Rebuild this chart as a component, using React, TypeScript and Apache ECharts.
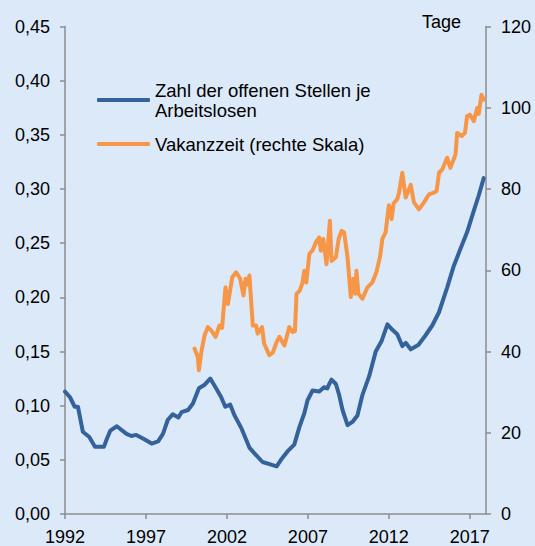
import React, { useEffect, useRef } from "react";
import * as echarts from "echarts";

const xTickLabelsStart = 1992;
const blueName = "Zahl der offenen Stellen je\nArbeitslosen";
const orangeName = "Vakanzzeit (rechte Skala)";

const blueYears = [
  1992.0, 1992.3, 1992.6, 1992.8, 1993.1, 1993.5, 1993.85, 1994.4, 1994.55, 1994.8,
  1995.2, 1995.8, 1996.1, 1996.4, 1996.9, 1997.35, 1997.75, 1998.05, 1998.35, 1998.65,
  1999.0, 1999.2, 1999.6, 1999.9, 2000.27, 2000.6, 2000.97, 2001.33, 2001.64, 2001.9,
  2002.2, 2002.47, 2002.9, 2003.4, 2003.7, 2004.2, 2004.63, 2005.07, 2005.34, 2005.75,
  2006.16, 2006.47, 2006.78, 2006.98, 2007.29, 2007.7, 2008.0, 2008.2, 2008.32, 2008.46,
  2008.73, 2008.93, 2009.14, 2009.45, 2009.75, 2010.06, 2010.37, 2010.78, 2011.19, 2011.56,
  2011.91, 2012.22, 2012.52, 2012.83, 2013.04, 2013.35, 2013.82, 2014.27, 2014.68, 2015.09,
  2015.6, 2016.01, 2016.43, 2016.83, 2017.25, 2017.55, 2017.86,
];
const blueValues = [
  0.113, 0.108, 0.099, 0.099, 0.076, 0.071, 0.062, 0.062, 0.068, 0.077,
  0.081, 0.074, 0.072, 0.073, 0.069, 0.065, 0.067, 0.074, 0.087, 0.092,
  0.089, 0.094, 0.096, 0.102, 0.116, 0.119, 0.125, 0.116, 0.108, 0.099,
  0.101, 0.091, 0.079, 0.061, 0.056, 0.048, 0.046, 0.044, 0.05, 0.058,
  0.064, 0.08, 0.093, 0.105, 0.114, 0.113, 0.117, 0.116, 0.12, 0.124,
  0.12, 0.11, 0.096, 0.082, 0.085, 0.091, 0.11, 0.127, 0.15, 0.16,
  0.175, 0.17, 0.166, 0.155, 0.158, 0.152, 0.156, 0.165, 0.174, 0.186,
  0.209, 0.229, 0.245, 0.26, 0.28, 0.294, 0.31,
];

const orangeYears = [
  2000.0, 2000.2, 2000.27, 2000.42, 2000.62, 2000.82, 2001.03, 2001.3, 2001.54, 2001.7,
  2001.91, 2002.06, 2002.33, 2002.57, 2002.82, 2003.02, 2003.15, 2003.25, 2003.39, 2003.6,
  2003.8, 2003.9, 2004.17, 2004.3, 2004.62, 2004.83, 2005.07, 2005.24, 2005.55, 2005.85,
  2006.06, 2006.2, 2006.3, 2006.5, 2006.67, 2006.78, 2006.9, 2007.09, 2007.3, 2007.5,
  2007.7, 2007.8, 2007.95, 2008.15, 2008.36, 2008.46, 2008.73, 2008.9, 2009.08, 2009.24,
  2009.45, 2009.65, 2009.8, 2009.92, 2010.0, 2010.12, 2010.37, 2010.68, 2010.98, 2011.23,
  2011.45, 2011.6, 2011.8, 2012.0, 2012.17, 2012.3, 2012.52, 2012.63, 2012.83, 2013.04,
  2013.35, 2013.55, 2013.86, 2014.17, 2014.48, 2014.78, 2014.95, 2015.1, 2015.3, 2015.6,
  2015.8, 2016.12, 2016.22, 2016.5, 2016.7, 2016.83, 2017.0, 2017.25, 2017.45, 2017.55,
  2017.72, 2017.86,
];
const orangeValues = [
  40.7, 38.7, 35.4, 39.9, 44, 46, 45.2, 43.6, 46.4, 45.8,
  55.8, 51.7, 58.3, 59.5, 57.9, 53.8, 57.9, 56.5, 58.7, 46.4,
  46.4, 44.4, 46, 41.9, 39.1, 39.7, 42.3, 43.6, 41.5, 46,
  44.8, 45, 54.2, 55, 57, 59.9, 57, 64, 65, 66.9,
  68.1, 64.8, 67.7, 61.5, 72.2, 62.3, 63.2, 67.7, 69.7, 69.3,
  63.2, 53.4, 57.9, 54.2, 59.9, 54.2, 53, 55.8, 57, 59.5,
  63.2, 67.7, 69.3, 76, 72.6, 76.5, 77.5, 79.1, 84, 77.9,
  81, 76.7, 75, 76.7, 78.7, 79.1, 79.5, 84, 84.8, 87.7,
  85.2, 88.5, 93.8, 93, 93.8, 97.9, 98.3, 96.7, 99.9, 98.5,
  103.2, 102,
];

const FONT = 'Arial, "Liberation Sans", sans-serif';
const AXIS_COLOR = "#8c8c8c";

export default function App() {
  const ref = useRef<HTMLDivElement>(null);
  useEffect(() => {
    if (!ref.current) return;
    const chart = echarts.init(ref.current, undefined, { renderer: "svg" });
    const blueData = blueYears.map((y, i) => [y - xTickLabelsStart, blueValues[i]]);
    const orangeData = orangeYears.map((y, i) => [y - xTickLabelsStart, orangeValues[i]]);
    chart.setOption({
      animation: false,
      backgroundColor: "#dce9f8",
      textStyle: { fontFamily: FONT },
      grid: { left: 65, right: 49, top: 26.5, bottom: 30, containLabel: false },
      legend: {
        orient: "vertical",
        left: 97,
        top: 70,
        padding: 0,
        icon: "roundRect",
        itemWidth: 53,
        itemHeight: 4,
        itemGap: 4,
        textStyle: { fontSize: 18.5, lineHeight: 20, color: "#000", fontFamily: FONT },
        data: [
          { name: blueName, textStyle: { padding: [20, 0, 0, 0] } },
          { name: orangeName },
        ],
      },
      xAxis: {
        type: "value",
        min: 0,
        max: 26,
        interval: 5,
        axisLine: { show: true, lineStyle: { color: AXIS_COLOR, width: 1.5 } },
        axisTick: { show: true, inside: false, length: 5, lineStyle: { color: AXIS_COLOR, width: 1.5 } },
        splitLine: { show: false },
        axisLabel: {
          margin: 14,
          fontSize: 18,
          color: "#000",
          fontFamily: FONT,
          showMaxLabel: false,
          formatter: (v: number) => String(Math.round(v + xTickLabelsStart)),
        },
      },
      yAxis: [
        {
          type: "value",
          min: 0,
          max: 0.45,
          interval: 0.05,
          position: "left",
          axisLine: { show: true, lineStyle: { color: AXIS_COLOR, width: 1.5 } },
          axisTick: { show: true, inside: false, length: 5, lineStyle: { color: AXIS_COLOR, width: 1.5 } },
          splitLine: { show: false },
          axisLabel: {
            margin: 15,
            fontSize: 18,
            color: "#000",
            fontFamily: FONT,
            formatter: (v: number) => v.toFixed(2).replace(".", ","),
          },
        },
        {
          type: "value",
          min: 0,
          max: 120,
          interval: 20,
          position: "right",
          name: "Tage",
          nameLocation: "end",
          nameGap: 5,
          nameTextStyle: {
            fontSize: 18,
            color: "#000",
            fontFamily: FONT,
            align: "right",
            verticalAlign: "middle",
            padding: [0, 25, 0, 0],
          },
          axisLine: { show: true, lineStyle: { color: AXIS_COLOR, width: 1.5 } },
          axisTick: { show: true, inside: false, length: 5, lineStyle: { color: AXIS_COLOR, width: 1.5 } },
          splitLine: { show: false },
          axisLabel: { margin: 15, fontSize: 18, color: "#000", fontFamily: FONT },
        },
      ],
      series: [
        {
          name: blueName,
          type: "line",
          yAxisIndex: 0,
          data: blueData,
          showSymbol: false,
          symbol: "none",
          lineStyle: { color: "#34629a", width: 4, cap: "round", join: "round" },
          itemStyle: { color: "#34629a" },
        },
        {
          name: orangeName,
          type: "line",
          yAxisIndex: 1,
          data: orangeData,
          showSymbol: false,
          symbol: "none",
          lineStyle: { color: "#f79646", width: 4, cap: "round", join: "round" },
          itemStyle: { color: "#f79646" },
        },
      ],
    });
    return () => chart.dispose();
  }, []);
  return (
    <div
      ref={ref}
      style={{ position: "fixed", left: 0, top: 0, width: 535, height: 546 }}
    />
  );
}
